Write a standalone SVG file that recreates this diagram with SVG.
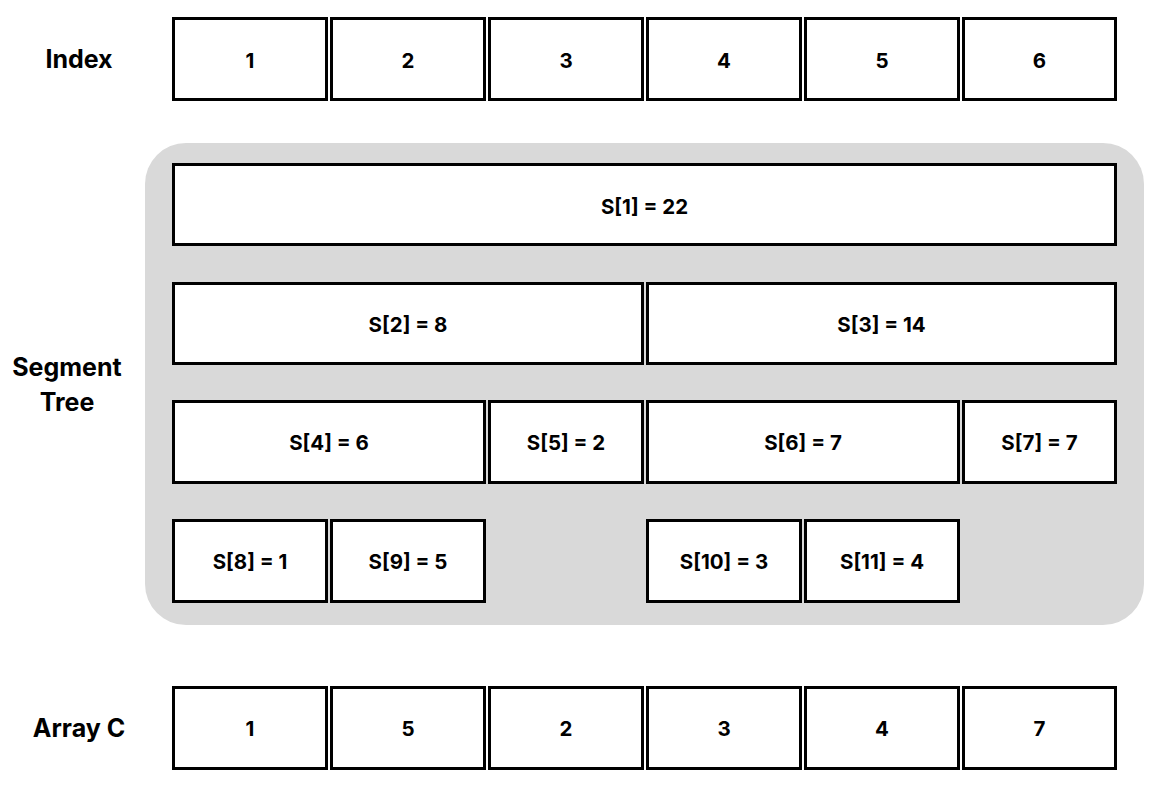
<svg xmlns="http://www.w3.org/2000/svg" width="1173" height="790" viewBox="0 0 1173 790">
<style>
.b{fill:#fff;stroke:#000;stroke-width:3}
.t{font-family:Inter,"Open Sans","Liberation Sans",sans-serif;font-weight:700;font-size:20.5px;text-anchor:middle;dominant-baseline:central;fill:#000}
.l{font-family:Inter,"Open Sans","Liberation Sans",sans-serif;font-weight:700;font-size:25px;text-anchor:middle;dominant-baseline:central;fill:#000}
</style>
<rect width="1173" height="790" fill="#fff"/>
<rect id="panel" x="145" y="143" width="999" height="482" rx="41" fill="#d9d9d9"/>
<g id="labels">
<text class="l" x="79" y="59">Index</text>
<text class="l" x="67" y="367">Segment</text>
<text class="l" x="67" y="402">Tree</text>
<text class="l" x="79" y="728">Array C</text>
</g>
<g id="index">
<g id="i1"><rect class="b" x="173.5" y="18.5" width="153" height="81"/><text class="t" x="250" y="60">1</text></g>
<g id="i2"><rect class="b" x="331.5" y="18.5" width="153" height="81"/><text class="t" x="408" y="60">2</text></g>
<g id="i3"><rect class="b" x="489.5" y="18.5" width="153" height="81"/><text class="t" x="566" y="60">3</text></g>
<g id="i4"><rect class="b" x="647.5" y="18.5" width="153" height="81"/><text class="t" x="724" y="60">4</text></g>
<g id="i5"><rect class="b" x="805.5" y="18.5" width="153" height="81"/><text class="t" x="882" y="60">5</text></g>
<g id="i6"><rect class="b" x="963.5" y="18.5" width="152" height="81"/><text class="t" x="1039.5" y="60">6</text></g>
</g>
<g id="tree">
<g id="s1"><rect class="b" x="173.5" y="164.5" width="942" height="80"/><text class="t" x="644.5" y="206">S[1] = 22</text></g>
<g id="s2"><rect class="b" x="173.5" y="283.5" width="469" height="80"/><text class="t" x="408" y="324">S[2] = 8</text></g>
<g id="s3"><rect class="b" x="647.5" y="283.5" width="468" height="80"/><text class="t" x="881.5" y="324">S[3] = 14</text></g>
<g id="s4"><rect class="b" x="173.5" y="401.5" width="311" height="81"/><text class="t" x="329" y="442">S[4] = 6</text></g>
<g id="s5"><rect class="b" x="489.5" y="401.5" width="153" height="81"/><text class="t" x="566" y="442">S[5] = 2</text></g>
<g id="s6"><rect class="b" x="647.5" y="401.5" width="311" height="81"/><text class="t" x="803" y="442">S[6] = 7</text></g>
<g id="s7"><rect class="b" x="963.5" y="401.5" width="152" height="81"/><text class="t" x="1039.5" y="442">S[7] = 7</text></g>
<g id="s8"><rect class="b" x="173.5" y="520.5" width="153" height="81"/><text class="t" x="250" y="561">S[8] = 1</text></g>
<g id="s9"><rect class="b" x="331.5" y="520.5" width="153" height="81"/><text class="t" x="408" y="561">S[9] = 5</text></g>
<g id="s10"><rect class="b" x="647.5" y="520.5" width="153" height="81"/><text class="t" x="724" y="561">S[10] = 3</text></g>
<g id="s11"><rect class="b" x="805.5" y="520.5" width="153" height="81"/><text class="t" x="882" y="561">S[11] = 4</text></g>
</g>
<g id="arrayC">
<g id="c1"><rect class="b" x="173.5" y="687.5" width="153" height="81"/><text class="t" x="250" y="728">1</text></g>
<g id="c2"><rect class="b" x="331.5" y="687.5" width="153" height="81"/><text class="t" x="408" y="728">5</text></g>
<g id="c3"><rect class="b" x="489.5" y="687.5" width="153" height="81"/><text class="t" x="566" y="728">2</text></g>
<g id="c4"><rect class="b" x="647.5" y="687.5" width="153" height="81"/><text class="t" x="724" y="728">3</text></g>
<g id="c5"><rect class="b" x="805.5" y="687.5" width="153" height="81"/><text class="t" x="882" y="728">4</text></g>
<g id="c6"><rect class="b" x="963.5" y="687.5" width="152" height="81"/><text class="t" x="1039.5" y="728">7</text></g>
</g>
<g id="connectors"/>
</svg>
